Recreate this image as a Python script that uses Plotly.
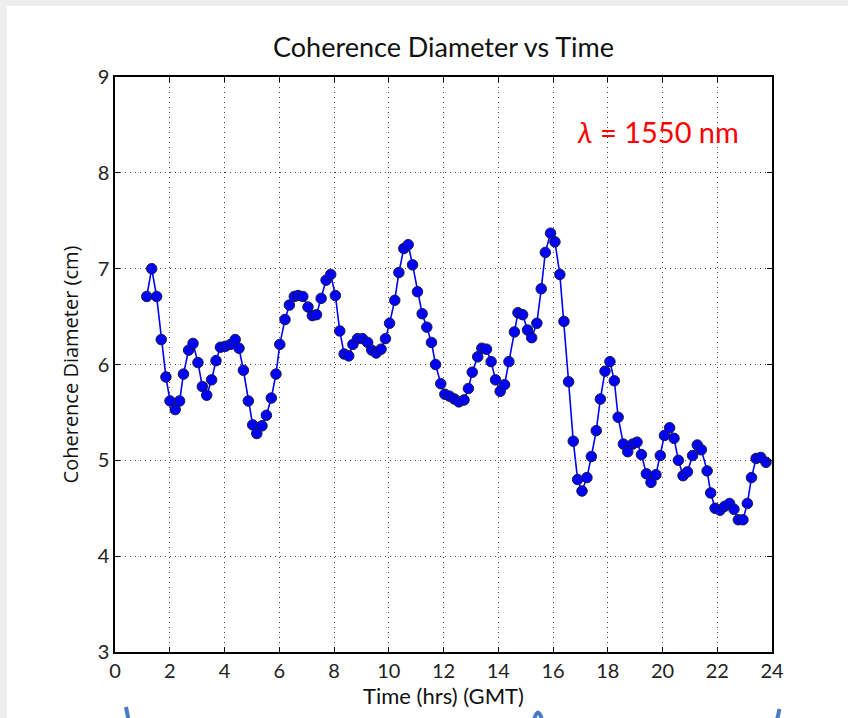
import plotly.graph_objects as go

# Coherence diameter measured through the day
time_hrs = [
    1.16, 1.34, 1.52, 1.69, 1.86, 2.01, 2.20, 2.36, 2.50, 2.69,
    2.85, 3.03, 3.19, 3.35, 3.53, 3.69, 3.85, 4.03, 4.22, 4.39,
    4.53, 4.69, 4.87, 5.03, 5.18, 5.37, 5.53, 5.71, 5.88, 6.02,
    6.21, 6.37, 6.55, 6.69, 6.86, 7.05, 7.21, 7.36, 7.53, 7.71,
    7.88, 8.05, 8.21, 8.37, 8.54, 8.69, 8.86, 9.04, 9.23, 9.38,
    9.54, 9.72, 9.88, 10.03, 10.22, 10.37, 10.55, 10.71, 10.87, 11.05,
    11.22, 11.39, 11.56, 11.71, 11.90, 12.05, 12.22, 12.40, 12.56, 12.75,
    12.91, 13.05, 13.25, 13.40, 13.57, 13.74, 13.90, 14.07, 14.23, 14.39,
    14.59, 14.72, 14.89, 15.07, 15.22, 15.41, 15.57, 15.72, 15.91, 16.07,
    16.25, 16.40, 16.57, 16.74, 16.90, 17.06, 17.24, 17.40, 17.58, 17.73,
    17.90, 18.08, 18.24, 18.38, 18.57, 18.73, 18.91, 19.07, 19.23, 19.41,
    19.58, 19.76, 19.92, 20.07, 20.26, 20.42, 20.58, 20.75, 20.91, 21.10,
    21.27, 21.42, 21.63, 21.76, 21.92, 22.10, 22.27, 22.45, 22.61, 22.77,
    22.94, 23.10, 23.25, 23.42, 23.59, 23.78,
]
diameter_cm = [
    6.71, 7.00, 6.71, 6.26, 5.87, 5.62, 5.53, 5.62, 5.90, 6.15,
    6.22, 6.02, 5.77, 5.68, 5.84, 6.04, 6.18, 6.19, 6.21, 6.26,
    6.17, 5.94, 5.62, 5.37, 5.28, 5.36, 5.47, 5.65, 5.90, 6.21,
    6.47, 6.62, 6.71, 6.72, 6.71, 6.60, 6.51, 6.52, 6.69, 6.88,
    6.94, 6.72, 6.35, 6.11, 6.09, 6.21, 6.27, 6.27, 6.23, 6.15,
    6.12, 6.16, 6.27, 6.43, 6.67, 6.96, 7.21, 7.25, 7.04, 6.76,
    6.53, 6.39, 6.23, 6.00, 5.80, 5.69, 5.67, 5.64, 5.61, 5.63,
    5.75, 5.92, 6.08, 6.17, 6.16, 6.03, 5.84, 5.72, 5.79, 6.03,
    6.34, 6.54, 6.52, 6.36, 6.28, 6.43, 6.79, 7.17, 7.37, 7.28,
    6.94, 6.45, 5.82, 5.20, 4.80, 4.68, 4.82, 5.04, 5.31, 5.64,
    5.93, 6.03, 5.83, 5.45, 5.17, 5.09, 5.17, 5.19, 5.06, 4.86,
    4.77, 4.85, 5.05, 5.26, 5.34, 5.23, 5.00, 4.84, 4.88, 5.05,
    5.16, 5.11, 4.89, 4.66, 4.50, 4.48, 4.52, 4.55, 4.49, 4.38,
    4.38, 4.55, 4.82, 5.02, 5.03, 4.98,
]

x_ticks = list(range(0, 25, 2))
y_ticks = list(range(3, 10))

# plot-area geometry in pixels (used only to place page decorations)
W, H = 848, 718
L, R, T, B = 115, 76, 77, 66
pw, ph = W - L - R, H - T - B


def px(x):
    return (x - L) / pw


def py(y):
    return (H - B - y) / ph


fig = go.Figure()
fig.add_trace(go.Scatter(
    x=time_hrs, y=diameter_cm,
    mode="lines+markers",
    line=dict(color="#0000ff", width=1.6),
    marker=dict(color="#0000ff", size=10.5, line=dict(color="#1a1a40", width=1)),
    showlegend=False,
    hoverinfo="x+y",
))

axis_common = dict(
    showline=True, linecolor="black", linewidth=1.5, mirror="ticks",
    ticks="inside", ticklen=5, tickcolor="black", tickwidth=1,
    showgrid=True, gridcolor="#444444", gridwidth=1, griddash="1px,4px",
    zeroline=False,
    tickfont=dict(family="Lato, Open Sans, sans-serif", size=20, color="#222222"),
)

fig.update_xaxes(
    range=[0, 24], tickvals=x_ticks, ticktext=[str(v) for v in x_ticks],
    title=dict(text="Time (hrs) (GMT)", standoff=7,
               font=dict(family="Lato, Open Sans, sans-serif", size=22, color="#111111")),
    **axis_common,
)
fig.update_yaxes(
    range=[3, 9], tickvals=y_ticks, ticktext=[str(v) for v in y_ticks],
    title=dict(text="Coherence Diameter (cm)", standoff=14,
               font=dict(family="Open Sans, sans-serif", size=20, color="#111111")),
    **axis_common,
)

shapes = [
    # light grey page edge around the white slide area
    dict(type="rect", xref="paper", yref="paper",
         x0=px(-5), x1=px(W + 5), y0=py(H + 5), y1=py(-5),
         fillcolor="#eeeeee", line=dict(width=0), layer="below"),
    dict(type="rect", xref="paper", yref="paper",
         x0=px(7), x1=px(W + 5), y0=py(H + 5), y1=py(6),
         fillcolor="white", line=dict(width=0), layer="below"),
    # small blue slide decorations along the bottom edge
    dict(type="line", xref="paper", yref="paper",
         x0=px(126), y0=py(707), x1=px(128.5), y1=py(720),
         line=dict(color="#4a7cc4", width=4)),
    dict(type="path", xref="paper", yref="paper",
         path=f"M {px(534)} {py(720)} Q {px(538)} {py(705)} {px(542)} {py(720)}",
         line=dict(color="#4a7cc4", width=4)),
    dict(type="line", xref="paper", yref="paper",
         x0=px(779.5), y0=py(709), x1=px(777), y1=py(720),
         line=dict(color="#4a7cc4", width=4)),
]

fig.update_layout(
    width=W, height=H,
    margin=dict(l=L, r=R, t=T, b=B),
    paper_bgcolor="white", plot_bgcolor="white",
    title=dict(text="Coherence Diameter vs Time", x=0.5, xanchor="center",
               xref="paper", y=1 - 48 / H, yanchor="middle",
               font=dict(family="Lato, Open Sans, sans-serif", size=27, color="#111111")),
    annotations=[dict(
        text="<i>λ</i> = 1550 nm", x=22.85, y=8.43, xref="x", yref="y",
        xanchor="right", yanchor="middle", showarrow=False,
        font=dict(family="Lato, Open Sans, sans-serif", size=29, color="#ff0000"),
    )],
    shapes=shapes,
)

fig.write_html("out.html")
